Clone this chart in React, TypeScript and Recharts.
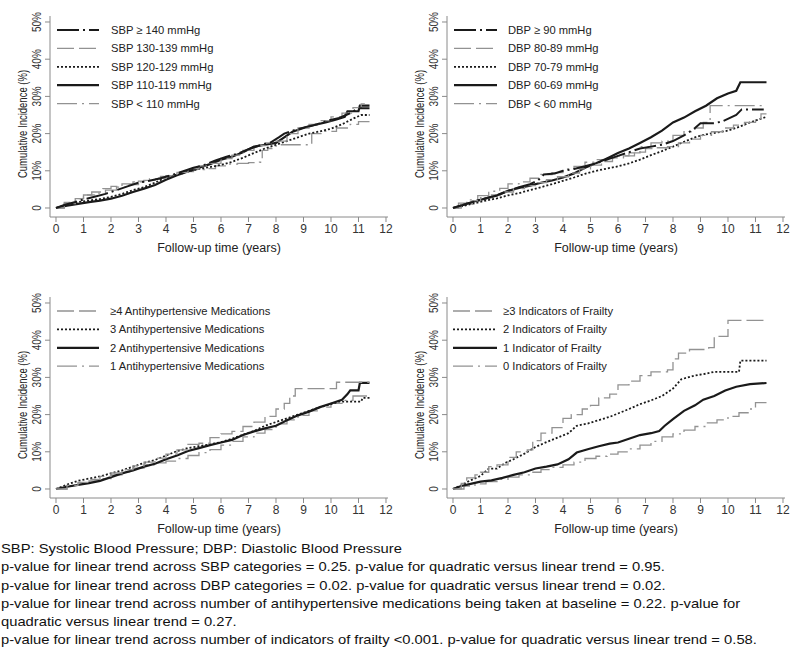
import React from 'react';
import { LineChart, Line, XAxis, YAxis, Label } from 'recharts';

type P = [number, number];

// ---------- Panel A: SBP ----------
const sbpLabels = ['SBP \u2265 140 mmHg', 'SBP 130-139 mmHg', 'SBP 120-129 mmHg', 'SBP 110-119 mmHg', 'SBP < 110 mmHg'];
const sbp140: P[] = [[0,0],[0.3,0.8],[0.7,1.6],[1,2.3],[1.4,3.0],[1.8,3.8],[2.2,4.8],[2.6,5.8],[3,6.8],[3.4,7.3],[3.8,8.0],[4.2,8.8],[4.6,9.8],[5,10.8],[5.4,11.6],[5.8,12.8],[6.2,13.8],[6.6,14.6],[7,15.8],[7.4,16.8],[7.8,17.6],[8.1,19.0],[8.3,20.0],[8.7,21.0],[9.1,21.8],[9.5,22.5],[9.9,23.5],[10.3,24.2],[10.7,25.5],[11,26.8],[11.4,26.8]];
const sbp130: P[] = [[0,0],[0.3,1.2],[0.7,2.5],[1,3.5],[1.3,4.3],[1.7,5.2],[2,5.8],[2.4,6.5],[2.8,7.0],[3.2,7.4],[3.6,8.0],[4,8.7],[4.4,9.6],[4.8,10.6],[5.2,11.3],[5.6,12.0],[6,13.3],[6.4,14.2],[6.8,15.5],[7.2,16.8],[7.6,17.5],[8,18.0],[8.4,20.0],[8.8,21.5],[9.2,22.5],[9.6,23.5],[10,24.5],[10.4,25.5],[10.8,27.0],[11.1,28.0],[11.4,28.0]];
const sbp120: P[] = [[0,0],[0.4,0.9],[0.8,1.6],[1.2,2.0],[1.6,2.4],[2,3.0],[2.4,3.8],[2.8,4.8],[3.2,5.6],[3.6,6.8],[4,8.2],[4.4,9.0],[4.8,9.8],[5.2,10.5],[5.6,11.0],[6,11.6],[6.4,12.4],[6.8,13.5],[7.2,14.8],[7.6,16.0],[8,17.0],[8.4,18.0],[8.8,19.0],[9.2,20.0],[9.6,20.6],[10,21.3],[10.4,22.5],[10.8,24.0],[11.1,25.0],[11.4,25.0]];
const sbp110: P[] = [[0,0],[0.4,0.6],[0.8,1.1],[1.2,1.6],[1.6,2.0],[2,2.5],[2.4,3.3],[2.8,4.3],[3.2,5.2],[3.6,6.2],[4,7.6],[4.4,8.8],[4.8,9.8],[5.2,10.8],[5.6,11.8],[6,13.0],[6.4,13.8],[6.8,15.0],[7.2,16.5],[7.6,17.0],[8,17.5],[8.3,19.0],[8.6,20.5],[9,21.5],[9.4,22.3],[9.8,23.0],[10.2,23.8],[10.5,24.5],[10.6,26.0],[11,26.0],[11.05,27.5],[11.4,27.5]];
const sbpLow: P[] = [[0,0],[0.3,1.5],[0.7,2.5],[1,3.5],[1.4,4.0],[1.8,4.8],[2.2,5.6],[2.6,6.3],[3,7.2],[3.4,7.8],[3.8,8.5],[4.2,9.0],[4.6,9.8],[5,10.3],[5.4,10.6],[5.8,11.3],[6.2,11.8],[6.6,12.0],[7,12.2],[7.4,12.3],[7.5,15.5],[7.7,16.0],[8,17.0],[9.1,17.0],[9.3,20.0],[9.7,20.6],[10.2,21.5],[10.7,22.5],[11,23.2],[11.4,23.2]];

// ---------- Panel B: DBP ----------
const dbpLabels = ['DBP \u2265 90 mmHg', 'DBP 80-89 mmHg', 'DBP 70-79 mmHg', 'DBP 60-69 mmHg', 'DBP < 60 mmHg'];
const dbp90: P[] = [[0,0],[0.4,0.9],[0.8,1.8],[1.2,2.6],[1.6,3.4],[2,4.6],[2.4,5.6],[2.8,6.4],[3.1,7.5],[3.3,9.0],[3.7,9.3],[4,10.0],[4.4,10.5],[4.8,11.2],[5.2,12.0],[5.6,13.0],[6,14.0],[6.4,15.0],[6.8,16.0],[7.2,16.5],[7.6,17.0],[8,18.0],[8.4,19.5],[8.8,21.5],[9,22.8],[9.5,22.8],[9.8,23.3],[10.3,25.0],[10.5,26.5],[11.3,26.5]];
const dbp80: P[] = [[0,0],[0.3,1.0],[0.7,2.0],[1,2.8],[1.4,3.5],[1.8,4.3],[2.2,5.2],[2.6,6.0],[3,6.8],[3.4,7.6],[3.8,8.4],[4.2,9.4],[4.6,10.5],[5,11.5],[5.4,12.5],[5.8,13.5],[6.2,14.0],[6.6,15.0],[7,16.0],[7.4,16.2],[7.8,16.5],[8.2,17.5],[8.6,18.5],[9,19.5],[9.4,20.5],[9.8,21.5],[10.2,22.3],[10.6,23.0],[11,24.0],[11.2,25.3],[11.4,25.3]];
const dbp70: P[] = [[0,0],[0.4,0.6],[0.8,1.3],[1.2,2.0],[1.6,2.6],[2,3.4],[2.4,4.0],[2.8,4.8],[3.2,5.6],[3.6,6.4],[4,7.3],[4.4,8.2],[4.8,9.2],[5.2,10.0],[5.6,10.6],[6,11.2],[6.4,12.0],[6.8,13.0],[7.2,14.2],[7.6,15.3],[8,16.5],[8.4,17.8],[8.8,19.0],[9.2,19.8],[9.6,20.3],[10,20.8],[10.4,21.8],[10.8,23.0],[11.2,24.0],[11.4,24.5]];
const dbp60: P[] = [[0,0],[0.4,0.9],[0.8,1.8],[1.2,2.6],[1.6,3.4],[2,4.6],[2.4,5.4],[2.8,6.0],[3.2,6.8],[3.6,7.4],[4,8.2],[4.4,9.3],[4.8,10.8],[5.2,12.0],[5.6,13.3],[6,14.8],[6.4,16.0],[6.8,17.5],[7.2,19.0],[7.6,20.8],[8,23.0],[8.4,24.3],[8.8,26.0],[9.2,27.5],[9.6,29.5],[10,30.8],[10.3,31.5],[10.45,33.8],[11.4,33.8]];
const dbpLow: P[] = [[0,0],[0.2,1.3],[0.5,2.2],[0.9,3.3],[1.3,4.5],[1.7,5.3],[2,6.5],[2.4,7.0],[2.8,8.0],[3.2,9.0],[3.6,9.5],[4,10.5],[4.4,11.2],[4.8,12.3],[5.2,13.0],[5.6,13.5],[6,14.0],[6.4,14.8],[6.8,16.5],[7.2,17.5],[7.6,18.0],[8,19.5],[8.4,20.5],[8.8,21.5],[9.1,23.0],[9.35,27.5],[11.3,27.5]];

// ---------- Panel C: antihypertensive medications ----------
const medLabels = ['\u22654 Antihypertensive Medications', '3 Antihypertensive Medications', '2 Antihypertensive Medications', '1 Antihypertensive Medications'];
const med4: P[] = [[0,0],[0.4,1.0],[0.8,1.8],[1.2,2.6],[1.6,3.4],[2,4.3],[2.4,5.2],[2.8,6.2],[3.2,7.2],[3.6,8.3],[4,9.4],[4.4,10.5],[4.8,12.0],[5.2,12.3],[5.6,13.8],[6,14.8],[6.4,15.5],[6.8,16.8],[7.2,18.0],[7.6,19.5],[8,21.5],[8.3,23.0],[8.5,25.0],[8.7,27.0],[10.1,27.0],[10.2,28.7],[11.4,28.7]];
const med3: P[] = [[0,0],[0.4,1.2],[0.8,2.2],[1.2,2.8],[1.6,3.4],[2,4.2],[2.4,5.0],[2.8,6.0],[3.2,7.0],[3.6,7.8],[4,9.0],[4.4,10.2],[4.8,11.0],[5.2,11.5],[5.6,12.0],[6,12.6],[6.4,13.5],[6.8,14.6],[7.2,15.6],[7.6,17.0],[8,18.0],[8.4,19.0],[8.8,20.0],[9.2,21.0],[9.6,22.0],[10,22.8],[10.3,23.5],[11.1,23.5],[11.15,24.5],[11.4,24.5]];
const med2: P[] = [[0,0],[0.4,0.6],[0.8,1.1],[1.2,1.6],[1.6,2.2],[2,3.2],[2.4,4.2],[2.8,5.0],[3.2,6.0],[3.6,6.8],[4,8.0],[4.4,9.0],[4.8,10.2],[5.2,11.0],[5.6,11.8],[6,12.5],[6.4,13.2],[6.8,14.5],[7.2,15.5],[7.6,16.3],[8,17.0],[8.4,18.5],[8.8,19.8],[9.2,20.8],[9.6,22.0],[10,23.0],[10.4,24.0],[10.6,25.5],[10.7,26.5],[11,26.5],[11.05,28.5],[11.4,28.5]];
const med1: P[] = [[0,0],[0.4,0.8],[0.8,1.5],[1.2,2.2],[1.6,2.8],[2,3.8],[2.4,4.6],[2.8,5.6],[3.2,6.5],[3.6,7.0],[4,7.5],[4.4,8.2],[4.8,9.0],[5.2,9.8],[5.6,10.6],[6,11.8],[6.4,12.8],[6.8,14.0],[7.2,15.0],[7.6,16.0],[8,17.5],[8.4,18.6],[8.8,19.8],[9.2,21.0],[9.6,22.0],[10,23.0],[10.4,23.8],[10.8,25.0],[11.4,25.0]];

// ---------- Panel D: frailty ----------
const frailLabels = ['\u22653 Indicators of Frailty', '2 Indicators of Frailty', '1 Indicator of Frailty', '0 Indicators of Frailty'];
const frail3: P[] = [[0,0],[0.3,1.5],[0.5,3.0],[0.8,3.8],[1,4.5],[1.3,6.0],[1.6,6.5],[2,8.5],[2.3,10.0],[2.7,10.5],[2.9,13.0],[3.2,15.0],[3.6,16.5],[4,19.0],[4.3,20.0],[4.7,21.5],[5,22.5],[5.3,24.5],[5.7,25.5],[6,28.0],[6.4,29.0],[6.8,30.5],[7.2,31.5],[7.8,32.0],[8,35.0],[8.2,36.5],[8.6,37.5],[9.3,38.0],[9.5,41.0],[9.9,41.0],[10,45.3],[11.4,45.3]];
const frail2: P[] = [[0,0],[0.3,1.0],[0.6,2.2],[1,3.5],[1.3,5.5],[1.6,5.5],[1.9,7.0],[2.2,8.0],[2.6,9.5],[3,11.3],[3.4,12.6],[3.8,13.8],[4.2,15.0],[4.5,17.0],[4.9,17.6],[5.3,18.5],[5.7,19.4],[6,20.3],[6.4,21.5],[6.8,22.8],[7.2,23.8],[7.6,25.0],[8,27.0],[8.3,29.5],[8.8,30.5],[9.2,31.0],[9.5,31.5],[10.4,31.5],[10.45,34.5],[11.4,34.5]];
const frail1: P[] = [[0,0],[0.3,0.8],[0.6,1.3],[1,2.0],[1.4,2.3],[1.8,3.0],[2.2,3.8],[2.6,4.5],[3,5.5],[3.4,6.0],[3.8,6.6],[4.2,8.0],[4.5,9.8],[4.9,10.7],[5.3,11.5],[5.7,12.2],[6,12.5],[6.4,13.5],[6.8,14.5],[7.2,15.0],[7.5,15.6],[7.7,17.0],[8,18.8],[8.4,21.0],[8.8,22.5],[9.1,24.0],[9.5,25.0],[9.9,26.5],[10.3,27.5],[10.8,28.2],[11.4,28.5]];
const frail0: P[] = [[0,0],[0.4,0.8],[0.8,1.4],[1.2,2.0],[1.6,2.6],[2,3.2],[2.4,3.8],[2.8,4.5],[3.2,5.2],[3.6,5.8],[4,6.5],[4.4,7.2],[4.8,8.2],[5.2,8.8],[5.6,9.4],[6,10.0],[6.4,10.8],[6.8,11.8],[7.2,12.8],[7.6,14.0],[8,14.8],[8.4,15.8],[8.8,16.8],[9.2,17.8],[9.6,18.6],[10,19.5],[10.4,20.5],[10.8,21.5],[11,23.2],[11.4,23.2]];

// ---------- Axes ----------
const xTicks = [0, 1, 2, 3, 4, 5, 6, 7, 8, 9, 10, 11, 12];
const yTicks = [0, 10, 20, 30, 40, 50];
const xTitle = 'Follow-up time (years)';
const yTitle = 'Cumulative Incidence (%)';

const footnotes = [
  'SBP: Systolic Blood Pressure; DBP: Diastolic Blood Pressure',
  'p-value for linear trend across SBP categories = 0.25. p-value for quadratic versus linear trend = 0.95.',
  'p-value for linear trend across DBP categories = 0.02. p-value for quadratic versus linear trend = 0.02.',
  'p-value for linear trend across number of antihypertensive medications being taken at baseline = 0.22. p-value for',
  'quadratic versus linear trend = 0.27.',
  'p-value for linear trend across number of indicators of frailty <0.001. p-value for quadratic versus linear trend = 0.58.',
];

// ---------- Styles ----------
const FONT = '"Liberation Sans", Arial, Helvetica, sans-serif';
const BLACK = '#1a1a1a';
const GRAY = '#929292';
type LS = { stroke: string; strokeWidth: number; strokeDasharray?: string; curve: 'linear' | 'stepAfter' };
const blackDashDot: LS = { stroke: BLACK, strokeWidth: 2, strokeDasharray: '22 4 2 4', curve: 'linear' };
const grayDash: LS = { stroke: GRAY, strokeWidth: 1.3, strokeDasharray: '17 5', curve: 'stepAfter' };
const blackDot: LS = { stroke: BLACK, strokeWidth: 1.8, strokeDasharray: '2 2', curve: 'linear' };
const blackSolid: LS = { stroke: BLACK, strokeWidth: 2.2, curve: 'linear' };
const grayDashDot: LS = { stroke: GRAY, strokeWidth: 1.3, strokeDasharray: '20 5 2 5', curve: 'stepAfter' };

const X_DOMAIN: [number, number] = [-0.218, 12.073];
const Y_DOMAIN: [number, number] = [-2.42, 51.61];

type Series = { label: string; data: P[]; style: LS };

const panels: { left: number; top: number; textX: number; lineX1: number; lineX2: number; series: Series[] }[] = [
  {
    left: 0, top: 0, textX: 111, lineX1: 57, lineX2: 99,
    series: [
      { label: sbpLabels[0], data: sbp140, style: blackDashDot },
      { label: sbpLabels[1], data: sbp130, style: grayDash },
      { label: sbpLabels[2], data: sbp120, style: blackDot },
      { label: sbpLabels[3], data: sbp110, style: blackSolid },
      { label: sbpLabels[4], data: sbpLow, style: grayDashDot },
    ],
  },
  {
    left: 397, top: 0, textX: 111, lineX1: 57, lineX2: 100,
    series: [
      { label: dbpLabels[0], data: dbp90, style: blackDashDot },
      { label: dbpLabels[1], data: dbp80, style: grayDash },
      { label: dbpLabels[2], data: dbp70, style: blackDot },
      { label: dbpLabels[3], data: dbp60, style: blackSolid },
      { label: dbpLabels[4], data: dbpLow, style: grayDashDot },
    ],
  },
  {
    left: 0, top: 281, textX: 110, lineX1: 57, lineX2: 99,
    series: [
      { label: medLabels[0], data: med4, style: grayDash },
      { label: medLabels[1], data: med3, style: blackDot },
      { label: medLabels[2], data: med2, style: blackSolid },
      { label: medLabels[3], data: med1, style: grayDashDot },
    ],
  },
  {
    left: 397, top: 281, textX: 106, lineX1: 56, lineX2: 100,
    series: [
      { label: frailLabels[0], data: frail3, style: grayDash },
      { label: frailLabels[1], data: frail2, style: blackDot },
      { label: frailLabels[2], data: frail1, style: blackSolid },
      { label: frailLabels[3], data: frail0, style: grayDashDot },
    ],
  },
];

const XTick = (props: any) => (
  <text x={props.x} y={229} textAnchor="middle" dominantBaseline="central" fontSize={12} fill="#333" fontFamily={FONT}>
    {props.payload.value}
  </text>
);

const YTick = (props: any) => {
  const v = props.payload.value;
  return (
    <text
      transform={`translate(37 ${props.y}) rotate(-90) scale(0.8 1)`}
      textAnchor="middle"
      dominantBaseline="central"
      fontSize={12.5}
      fill="#333"
      fontFamily={FONT}
    >
      {v === 0 ? '0' : `${v}%`}
    </text>
  );
};

const XTitle = () => (
  <text x={219} y={248} textAnchor="middle" dominantBaseline="central" fontSize={12.5} fill="#222" fontFamily={FONT}>
    {xTitle}
  </text>
);

const YTitle = () => (
  <text
    transform="translate(22 124) rotate(-90) scale(0.76 1)"
    textAnchor="middle"
    dominantBaseline="central"
    fontSize={12.5}
    fill="#222"
    fontFamily={FONT}
  >
    {yTitle}
  </text>
);

function Panel({ p }: { p: (typeof panels)[number] }) {
  const rows = p.series.map((s) => ({ ...s, points: s.data.map(([t, v]) => ({ t, v })) }));
  return (
    <div style={{ position: 'absolute', left: p.left, top: p.top, width: 400, height: 260 }}>
      <LineChart width={400} height={260} margin={{ top: 16, right: 12, bottom: 13, left: 0 }}>
        <XAxis
          type="number"
          dataKey="t"
          domain={X_DOMAIN}
          ticks={xTicks}
          allowDataOverflow
          height={30}
          tickSize={5}
          tick={XTick}
          axisLine={{ stroke: '#8a8a8a', strokeWidth: 1 }}
          tickLine={{ stroke: '#8a8a8a', strokeWidth: 1 }}
          interval={0}
        >
          <Label content={XTitle} />
        </XAxis>
        <YAxis
          type="number"
          dataKey="v"
          domain={Y_DOMAIN}
          ticks={yTicks}
          allowDataOverflow
          width={50}
          tickSize={5}
          tick={YTick}
          axisLine={{ stroke: '#8a8a8a', strokeWidth: 1 }}
          tickLine={{ stroke: '#8a8a8a', strokeWidth: 1 }}
          interval={0}
        >
          <Label content={YTitle} />
        </YAxis>
        {rows
          .slice()
          .reverse()
          .map((s) => (
            <Line
              key={s.label}
              data={s.points}
              dataKey="v"
              type={s.style.curve}
              dot={false}
              activeDot={false}
              isAnimationActive={false}
              stroke={s.style.stroke}
              strokeWidth={s.style.strokeWidth}
              strokeDasharray={s.style.strokeDasharray}
              strokeLinejoin="miter"
            />
          ))}
      </LineChart>
      <svg width={400} height={120} style={{ position: 'absolute', left: 0, top: 0, pointerEvents: 'none' }}>
        {rows.map((s, i) => {
          const y = 30 + i * 18.4;
          return (
            <g key={s.label}>
              <line x1={p.lineX1} x2={p.lineX2} y1={y} y2={y} stroke={s.style.stroke} strokeWidth={s.style.strokeWidth} strokeDasharray={s.style.strokeDasharray} />
              <text x={p.textX} y={y} dominantBaseline="central" fontSize={11.2} fill="#222" fontFamily={FONT}>
                {s.label}
              </text>
            </g>
          );
        })}
      </svg>
    </div>
  );
}

export default function App() {
  return (
    <div style={{ position: 'absolute', left: 0, top: 0, width: 800, height: 650, background: '#fff', overflow: 'hidden' }}>
      {panels.map((p, i) => (
        <Panel key={i} p={p} />
      ))}
      <div
        style={{
          position: 'absolute',
          left: 1,
          top: 540,
          width: 800,
          fontFamily: FONT,
          fontSize: 13.6,
          lineHeight: '18.3px',
          color: '#111',
          whiteSpace: 'nowrap',
          transform: 'scaleX(1.085)',
          transformOrigin: '0 0',
        }}
      >
        {footnotes.map((f, i) => (
          <div key={i}>{f}</div>
        ))}
      </div>
    </div>
  );
}
